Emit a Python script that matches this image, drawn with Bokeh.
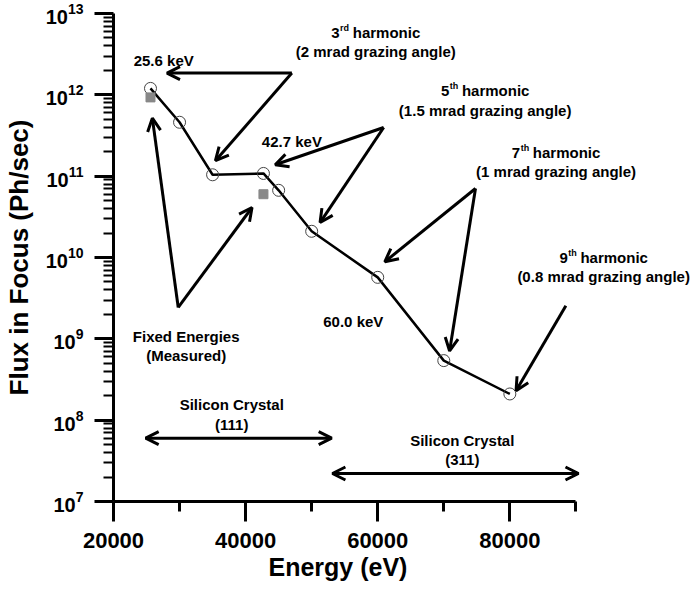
from bokeh.plotting import figure
from bokeh.models import Range1d, FixedTicker, Label, Arrow, OpenHead, Title
from bokeh.embed import file_html
from bokeh.resources import INLINE

# ---------------- data ----------------
energy_calc = [25600, 30000, 35000, 42700, 45000, 50000, 60000, 70000, 80000]
flux_calc = [1.2e12, 4.6e11, 1.04e11, 1.08e11, 6.7e10, 2.1e10, 5.7e9, 5.4e8, 2.1e8]
energy_meas = [25600, 42700]
flux_meas = [9.3e11, 6.0e10]

x_ticks = [20000, 40000, 60000, 80000]
x_minor_ticks = [30000, 50000, 70000, 90000]
y_exponents = [7, 8, 9, 10, 11, 12, 13]

# annotation arrows: (x_start, y_start, x_end, y_end)
pointer_arrows = [
    (47000, 1.85e12, 28100, 1.85e12),
    (47000, 1.85e12, 35430, 1.55e11),
    (60900, 3.97e11, 44480, 1.38e11),
    (60900, 3.97e11, 51270, 2.69e10),
    (74800, 7.05e10, 61070, 8.85e9),
    (74800, 7.05e10, 70880, 7.1e8),
    (88480, 2.55e9, 80940, 2.3e8),
    (29800, 2.43e9, 25880, 5.17e11),
    (29800, 2.43e9, 40970, 4.12e10),
]
range_arrows = [
    (24870, 6.0e7, 53030, 6.0e7),
    (53140, 2.21e7, 90390, 2.21e7),
]

# harmonic labels: (number, suffix, second line, x, y line1, y line2)
harmonic_labels = [
    ("3", "rd", "(2 mrad grazing angle)", 59700, 5.79e12, 3.38e12),
    ("5", "th", "(1.5 mrad grazing angle)", 76260, 1.12e12, 6.37e11),
    ("7", "th", "(1 mrad grazing angle)", 87000, 1.94e11, 1.13e11),
    ("9", "th", "(0.8 mrad grazing angle)", 94200, 9.9e9, 5.8e9),
]
# plain labels: (text, x, y)
plain_labels = [
    ("25.6 keV", 27600, 2.62e12),
    ("42.7 keV", 47000, 2.65e11),
    ("60.0 keV", 56300, 1.62e9),
    ("Fixed Energies", 31000, 1.07e9),
    ("(Measured)", 31000, 6.27e8),
    ("Silicon Crystal", 37900, 1.56e8),
    ("(111)", 37900, 8.9e7),
    ("Silicon Crystal", 72800, 5.66e7),
    ("(311)", 72800, 3.3e7),
]

FONT = "Liberation Sans"
X_MIN, X_MAX = 20000, 90000
W, H = 692, 590
LEFT, RIGHT_AXIS_END = 111, 575
# frame is widened to the canvas edge so that annotations may run past the axis end
x_view_end = X_MAX + (W - RIGHT_AXIS_END) * (X_MAX - X_MIN) / (RIGHT_AXIS_END - LEFT)

p = figure(width=W, height=H, output_backend="svg", toolbar_location=None,
           x_range=Range1d(X_MIN, x_view_end), y_range=Range1d(1e7, 1e13),
           y_axis_type="log",
           min_border_left=LEFT, min_border_right=0,
           min_border_top=13, min_border_bottom=89)
p.outline_line_color = None
p.grid.visible = False
p.background_fill_color = "white"
p.border_fill_color = "white"

xa = p.xaxis[0]
xa.bounds = (X_MIN, X_MAX)
xa.ticker = FixedTicker(ticks=x_ticks, minor_ticks=x_minor_ticks)
xa.axis_line_width = 3
xa.axis_line_color = "black"
xa.major_tick_in = 0
xa.major_tick_out = 20
xa.major_tick_line_width = 3
xa.minor_tick_in = 0
xa.minor_tick_out = 10
xa.minor_tick_line_width = 3
xa.major_label_text_font = FONT
xa.major_label_text_font_style = "bold"
xa.major_label_text_font_size = "22px"
xa.major_label_text_color = "black"
xa.major_label_standoff = 11

# x-axis title, centred under the axis line (not the widened frame)
p.add_layout(Title(text="Energy (eV)", text_font=FONT, text_font_style="bold",
                   text_font_size="25px", text_color="black", align="left",
                   offset=155, standoff=0), "below")

ya = p.yaxis[0]
ya.bounds = (1e7, 1e13)
ya.ticker = FixedTicker(ticks=[10.0 ** e for e in y_exponents],
                        minor_ticks=[m * 10.0 ** e for e in y_exponents[:-1] for m in range(2, 10)])
ya.axis_line_width = 3
ya.axis_line_color = "black"
ya.major_tick_in = 0
ya.major_tick_out = 19
ya.major_tick_line_width = 3
ya.minor_tick_in = 0
ya.minor_tick_out = 10
ya.minor_tick_line_width = 2
ya.major_label_text_font = FONT
ya.major_label_text_font_style = "bold"
ya.major_label_text_font_size = "20px"
ya.major_label_text_color = "black"
ya.major_label_standoff = 11
ya.axis_label = "Flux in Focus (Ph/sec)"
ya.axis_label_text_font = FONT
ya.axis_label_text_font_style = "bold"
ya.axis_label_text_font_size = "26px"
ya.axis_label_text_color = "black"
ya.axis_label_standoff = 9

# data marks
p.line(energy_calc, flux_calc, line_width=2.5, line_color="black")
p.scatter(energy_calc, flux_calc, marker="circle", size=12, fill_color=None,
          line_color="#444444", line_width=1)
p.scatter(energy_meas, flux_meas, marker="square", size=9,
          fill_color="#888888", line_color="#888888")

# arrows
for xs, ys, xe, ye in pointer_arrows:
    p.add_layout(Arrow(x_start=xs, y_start=ys, x_end=xe, y_end=ye,
                       line_width=3, line_color="black",
                       end=OpenHead(size=13, line_width=3, line_color="black")))
for xs, ys, xe, ye in range_arrows:
    p.add_layout(Arrow(x_start=xs, y_start=ys, x_end=xe, y_end=ye,
                       line_width=3, line_color="black",
                       start=OpenHead(size=13, line_width=3, line_color="black"),
                       end=OpenHead(size=13, line_width=3, line_color="black")))


def lab(x, y, text, size=15, align="center", dx=0, dy=0):
    p.add_layout(Label(x=x, y=y, text=text, text_font=FONT, text_font_style="bold",
                       text_font_size=f"{size}px", text_align=align,
                       text_baseline="alphabetic", x_offset=dx, y_offset=dy,
                       text_color="black"))


for text, x, y in plain_labels:
    lab(x, y, text)

SUP_W = {"rd": 1.0, "th": 0.944}
for num, suf, line2, x, y1, y2 in harmonic_labels:
    w_num = 0.556 * 15
    w_suf = SUP_W[suf] * 9
    w_sp = 0.278 * 15
    w_h = 4.501 * 15
    total = w_num + w_suf + w_sp + w_h
    x0 = -total / 2
    lab(x, y1, num, align="left", dx=x0)
    lab(x, y1, suf, size=9, align="left", dx=x0 + w_num + 0.5, dy=4.5)
    lab(x, y1, "harmonic", align="left", dx=x0 + w_num + w_suf + w_sp)
    lab(x, y2, line2)

open("out.html", "w").write(file_html(p, INLINE))
